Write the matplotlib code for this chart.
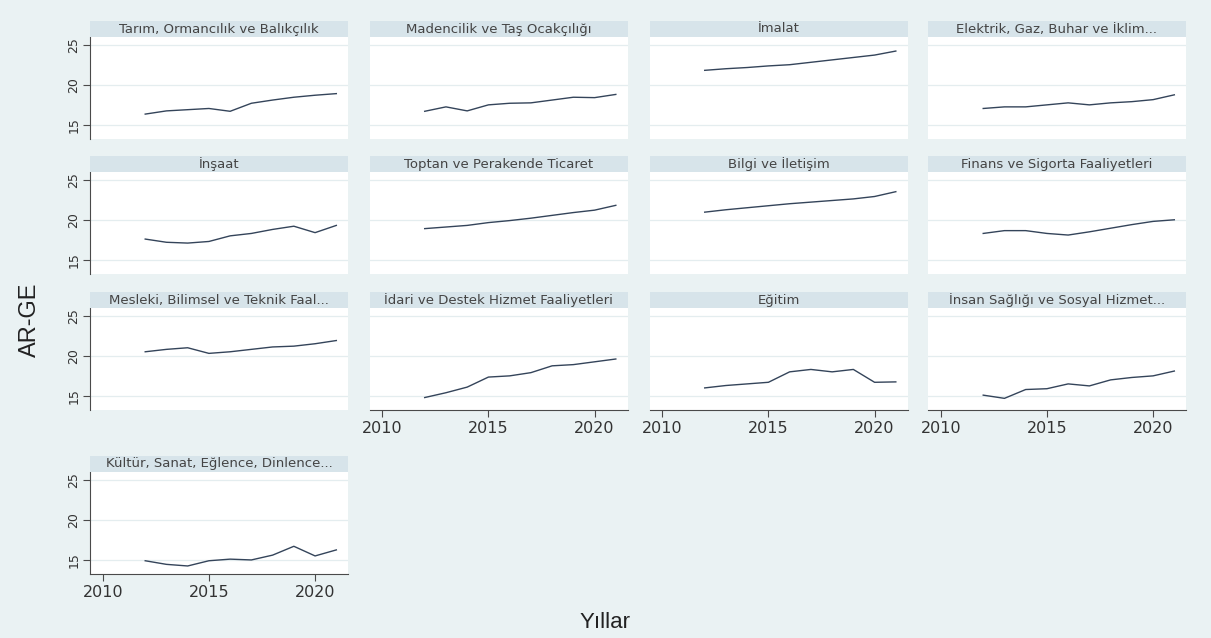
import matplotlib
matplotlib.use("Agg")
import matplotlib.pyplot as plt
from matplotlib.patches import Rectangle

plt.rcParams['font.family'] = ['Liberation Sans', 'DejaVu Sans']

years = [2012, 2013, 2014, 2015, 2016, 2017, 2018, 2019, 2020, 2021]

titles = [
    "Tarım, Ormancılık ve Balıkçılık",
    "Madencilik ve Taş Ocakçılığı",
    "İmalat",
    "Elektrik, Gaz, Buhar ve İklim...",
    "İnşaat",
    "Toptan ve Perakende Ticaret",
    "Bilgi ve İletişim",
    "Finans ve Sigorta Faaliyetleri",
    "Mesleki, Bilimsel ve Teknik Faal...",
    "İdari ve Destek Hizmet Faaliyetleri",
    "Eğitim",
    "İnsan Sağlığı ve Sosyal Hizmet...",
    "Kültür, Sanat, Eğlence, Dinlence...",
]

tarim = [16.35, 16.75, 16.9, 17.05, 16.7, 17.7, 18.1, 18.45, 18.7, 18.9]
madencilik = [16.7, 17.25, 16.75, 17.5, 17.7, 17.75, 18.1, 18.45, 18.4, 18.8]
imalat = [21.8, 22.0, 22.15, 22.35, 22.5, 22.8, 23.1, 23.4, 23.7, 24.2]
elektrik = [17.05, 17.25, 17.25, 17.5, 17.75, 17.5, 17.75, 17.9, 18.15, 18.75]
insaat = [17.6, 17.2, 17.1, 17.3, 18.0, 18.3, 18.8, 19.2, 18.4, 19.3]
toptan = [18.9, 19.1, 19.3, 19.65, 19.9, 20.2, 20.55, 20.9, 21.2, 21.8]
bilgi = [20.95, 21.25, 21.5, 21.75, 22.0, 22.2, 22.4, 22.6, 22.9, 23.5]
finans = [18.3, 18.65, 18.65, 18.3, 18.1, 18.5, 18.95, 19.4, 19.8, 20.0]
mesleki = [20.5, 20.8, 21.0, 20.3, 20.5, 20.8, 21.1, 21.2, 21.5, 21.9]
idari = [14.8, 15.4, 16.1, 17.35, 17.5, 17.9, 18.75, 18.9, 19.25, 19.6]
egitim = [16.0, 16.3, 16.5, 16.7, 18.0, 18.3, 18.0, 18.3, 16.7, 16.75]
insan = [15.1, 14.7, 15.8, 15.9, 16.5, 16.25, 17.0, 17.3, 17.5, 18.1]
kultur = [14.9, 14.45, 14.25, 14.9, 15.1, 15.0, 15.6, 16.7, 15.5, 16.25]

series = [tarim, madencilik, imalat, elektrik, insaat, toptan, bilgi, finans,
          mesleki, idari, egitim, insan, kultur]

yticks = [15, 20, 25]
xticks = [2010, 2015, 2020]

W, H = 1211, 638
fig = plt.figure(figsize=(W / 100, H / 100), dpi=100)
fig.patch.set_facecolor('#EAF2F3')

col_left = [90, 369.5, 649.5, 928]
row_top = [37, 172, 308, 472]
pw, ph = 258, 102
strip_h = 16

line_color = '#34445a'
axis_color = '#4a4a4a'
tick_font = ['DejaVu Sans']

for i, (title, vals) in enumerate(zip(titles, series)):
    r, c = divmod(i, 4)
    x0 = col_left[c]
    y0 = row_top[r]
    ax = fig.add_axes([x0 / W, 1 - (y0 + ph) / H, pw / W, ph / H])
    ax.set_facecolor('white')
    ax.set_xlim(2009.4, 2021.55)
    ax.set_ylim(13.25, 25.95)
    for yt in yticks:
        ax.axhline(yt, color='#E4EDEF', lw=0.9, zorder=1)
    ax.plot(years, vals, color=line_color, lw=1.0, zorder=3)
    for s in ax.spines.values():
        s.set_visible(False)
    show_y = (c == 0)
    show_x = (r == 3) or (r == 2 and c > 0)
    ax.set_yticks(yticks)
    ax.set_xticks(xticks)
    if show_y:
        ax.spines['left'].set_visible(True)
        ax.spines['left'].set_color(axis_color)
        ax.spines['left'].set_linewidth(0.8)
        ax.tick_params(axis='y', length=5, width=0.8, color=axis_color,
                       labelsize=9, labelcolor='#333333', pad=2)
        for lab in ax.get_yticklabels():
            lab.set_rotation(90)
            lab.set_va('center')
            lab.set_family(tick_font)
    else:
        ax.tick_params(axis='y', left=False, labelleft=False)
    if show_x:
        ax.spines['bottom'].set_visible(True)
        ax.spines['bottom'].set_color(axis_color)
        ax.spines['bottom'].set_linewidth(0.8)
        ax.tick_params(axis='x', length=5, width=0.8, color=axis_color,
                       labelsize=11.5, labelcolor='#333333', pad=3)
        for lab in ax.get_xticklabels():
            lab.set_family(tick_font)
    else:
        ax.tick_params(axis='x', bottom=False, labelbottom=False)
    # strip title
    sh = strip_h / ph
    ax.add_patch(Rectangle((0, 1), 1, sh, transform=ax.transAxes,
                           facecolor='#D7E4EA', edgecolor='none',
                           clip_on=False, zorder=5))
    ax.text(0.5, 1 + sh / 2, title, transform=ax.transAxes, ha='center',
            va='center', fontsize=9.5, color='#444444', zorder=6,
            family=['DejaVu Sans'])

fig.text(30 / W, 1 - 320 / H, 'AR-GE', rotation=90, ha='center', va='center',
         fontsize=17, color='#222222')
fig.text(605 / W, 1 - 622 / H, 'Yıllar', ha='center', va='center',
         fontsize=16, color='#222222')

fig.savefig('out.png', dpi=100, facecolor=fig.get_facecolor())
